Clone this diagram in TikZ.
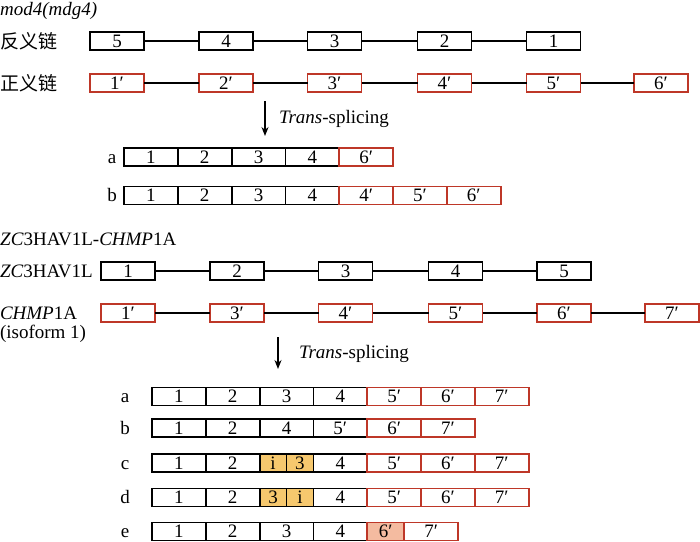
\documentclass[tikz,border=0pt]{standalone}
\usepackage{fontspec}
\setmainfont{Liberation Serif}
\newfontfamily\cjk{Noto Sans CJK SC}
\usetikzlibrary{arrows.meta}
\definecolor{exred}{RGB}{190,55,40}
\definecolor{exorg}{RGB}{246,200,110}
\definecolor{expink}{RGB}{244,187,160}
\begin{document}
\begin{tikzpicture}[x=1pt,y=-1pt,
  font=\fontsize{19}{20}\selectfont,
  tx/.style={inner sep=0pt, outer sep=0pt, text height=12.8pt, text depth=0pt},
  exk/.style={tx, draw=black, line width=1.8pt, minimum width=54pt, minimum height=18pt},
  exr/.style={exk, draw=exred},
  ck/.style={tx, draw=black, line width=1.8pt, minimum width=53.8pt, minimum height=18pt, anchor=west},
  cr/.style={ck, draw=exred},
  co/.style={ck, fill=exorg, minimum width=26.9pt},
  cp/.style={cr, fill=expink, minimum width=37pt},
  link/.style={line width=1.4pt},
  arr/.style={line width=1.4pt, -{Stealth[length=9pt,width=7pt]}},
  lab/.style={tx, anchor=west},
  rowlab/.style={tx}
]
\useasboundingbox (0,0) rectangle (700,541);

% ---------- mod4(mdg4) ----------
\node[anchor=base west, inner sep=0pt] (title1) at (0,15) {\textit{mod4(mdg4)}};
\node[anchor=west, inner sep=0pt] (anti) at (0,41) {\cjk 反义链};
\node[anchor=west, inner sep=0pt] (sense) at (0,83) {\cjk 正义链};

\node[exk] (a5) at (117,41) {5};
\node[exk] (a4) at (226,41) {4};
\node[exk] (a3) at (334.5,41) {3};
\node[exk] (a2) at (444.5,41) {2};
\node[exk] (a1) at (553.5,41) {1};
\draw[link] (a5) -- (a4);
\draw[link] (a4) -- (a3);
\draw[link] (a3) -- (a2);
\draw[link] (a2) -- (a1);

\node[exr] (s1) at (117,83) {1′};
\node[exr] (s2) at (226,83) {2′};
\node[exr] (s3) at (334.5,83) {3′};
\node[exr] (s4) at (444.5,83) {4′};
\node[exr] (s5) at (553.5,83) {5′};
\node[exr] (s6) at (661,83) {6′};
\draw[link] (s1) -- (s2);
\draw[link] (s2) -- (s3);
\draw[link] (s3) -- (s4);
\draw[link] (s4) -- (s5);
\draw[link] (s5) -- (s6);

\coordinate (ar1s) at (265,101);
\coordinate (ar1e) at (265,136);
\draw[arr] (ar1s) -- (ar1e);
\node[lab] (ts1) at (279,117) {\textit{Trans}-splicing};

% row a
\node[rowlab] (la1) at (112,157) {a};
\node[ck] (ta1) at (124,157) {1};
\node[ck] (ta2) at (ta1.east) {2};
\node[ck] (ta3) at (ta2.east) {3};
\node[ck] (ta4) at (ta3.east) {4};
\node[cr] (ta5) at (ta4.east) {6′};
% row b
\node[rowlab] (lb1) at (112,195.5) {b};
\node[ck] (tb1) at (124,195.5) {1};
\node[ck] (tb2) at (tb1.east) {2};
\node[ck] (tb3) at (tb2.east) {3};
\node[ck] (tb4) at (tb3.east) {4};
\node[cr] (tb5) at (tb4.east) {4′};
\node[cr] (tb6) at (tb5.east) {5′};
\node[cr] (tb7) at (tb6.east) {6′};

% ---------- ZC3HAV1L-CHMP1A ----------
\node[anchor=base west, inner sep=0pt] (title2) at (0,245) {\textit{ZC}3HAV1L-\textit{CHMP}1A};
\node[lab] (zc) at (0,271) {\textit{ZC}3HAV1L};
\node[lab] (chmp) at (0,313) {\textit{CHMP}1A};
\node[lab] (iso) at (0,332) {(isoform 1)};

\node[exk] (z1) at (128,271) {1};
\node[exk] (z2) at (237,271) {2};
\node[exk] (z3) at (345.5,271) {3};
\node[exk] (z4) at (455.5,271) {4};
\node[exk] (z5) at (564,271) {5};
\draw[link] (z1) -- (z2);
\draw[link] (z2) -- (z3);
\draw[link] (z3) -- (z4);
\draw[link] (z4) -- (z5);

\node[exr] (c1) at (128,313) {1′};
\node[exr] (c3) at (237,313) {3′};
\node[exr] (c4) at (345.5,313) {4′};
\node[exr] (c5) at (455.5,313) {5′};
\node[exr] (c6) at (564,313) {6′};
\node[exr] (c7) at (672,313) {7′};
\draw[link] (c1) -- (c3);
\draw[link] (c3) -- (c4);
\draw[link] (c4) -- (c5);
\draw[link] (c5) -- (c6);
\draw[link] (c6) -- (c7);

\coordinate (ar2s) at (278,337);
\coordinate (ar2e) at (278,369);
\draw[arr] (ar2s) -- (ar2e);
\node[lab] (ts2) at (299,352) {\textit{Trans}-splicing};

% row a
\node[rowlab] (ma) at (125,396.5) {a};
\node[ck] (pa1) at (152,396.5) {1};
\node[ck] (pa2) at (pa1.east) {2};
\node[ck] (pa3) at (pa2.east) {3};
\node[ck] (pa4) at (pa3.east) {4};
\node[cr] (pa5) at (pa4.east) {5′};
\node[cr] (pa6) at (pa5.east) {6′};
\node[cr] (pa7) at (pa6.east) {7′};
% row b
\node[rowlab] (mb) at (125,428) {b};
\node[ck] (pb1) at (152,428) {1};
\node[ck] (pb2) at (pb1.east) {2};
\node[ck] (pb3) at (pb2.east) {4};
\node[ck] (pb4) at (pb3.east) {5′};
\node[cr] (pb5) at (pb4.east) {6′};
\node[cr] (pb6) at (pb5.east) {7′};
% row c
\node[rowlab] (mc) at (125,463) {c};
\node[ck] (pc1) at (152,463) {1};
\node[ck] (pc2) at (pc1.east) {2};
\node[co] (pc3) at (pc2.east) {i};
\node[co] (pc4) at (pc3.east) {3};
\node[ck] (pc5) at (pc4.east) {4};
\node[cr] (pc6) at (pc5.east) {5′};
\node[cr] (pc7) at (pc6.east) {6′};
\node[cr] (pc8) at (pc7.east) {7′};
% row d
\node[rowlab] (md) at (125,497.5) {d};
\node[ck] (pd1) at (152,497.5) {1};
\node[ck] (pd2) at (pd1.east) {2};
\node[co] (pd3) at (pd2.east) {3};
\node[co] (pd4) at (pd3.east) {i};
\node[ck] (pd5) at (pd4.east) {4};
\node[cr] (pd6) at (pd5.east) {5′};
\node[cr] (pd7) at (pd6.east) {6′};
\node[cr] (pd8) at (pd7.east) {7′};
% row e
\node[rowlab] (me) at (125,531.5) {e};
\node[ck] (pe1) at (152,531.5) {1};
\node[ck] (pe2) at (pe1.east) {2};
\node[ck] (pe3) at (pe2.east) {3};
\node[ck] (pe4) at (pe3.east) {4};
\node[cp] (pe5) at (pe4.east) {6′};
\node[cr] (pe6) at (pe5.east) {7′};
\end{tikzpicture}
\end{document}
